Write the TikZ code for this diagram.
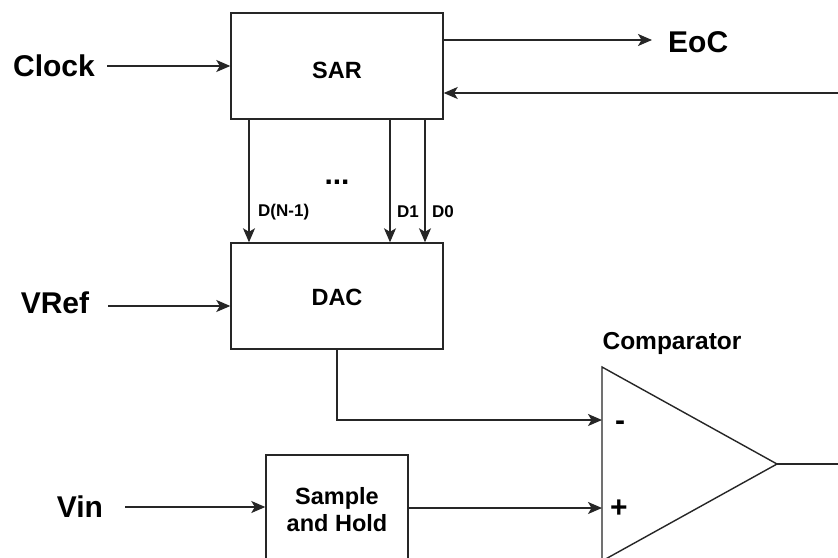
\documentclass[tikz,border=0pt]{standalone}
\usepackage{fontspec}
\setmainfont{Liberation Sans}
\usetikzlibrary{arrows.meta}
\begin{document}
\begin{tikzpicture}[x=1pt,y=-1pt,
  wire/.style={line width=1.4pt, draw=black!85},
  arr/.style={wire, -{Stealth[length=14pt,width=12pt,inset=3.5pt]}},
  blk/.style={draw=black!85, line width=1.4pt, rectangle, inner sep=0pt, align=center, font=\bfseries\fontsize{23.5}{27}\selectfont},
  big/.style={inner sep=0pt, font=\bfseries\fontsize{30}{34}\selectfont},
  mid/.style={inner sep=0pt, font=\bfseries\fontsize{24.5}{28}\selectfont},
  sign/.style={inner sep=0pt, font=\bfseries\fontsize{30}{34}\selectfont},
  small/.style={inner sep=0pt, font=\bfseries\fontsize{17}{19}\selectfont}]
\useasboundingbox (0,0) rectangle (838,557);
\fill[white] (0,0) rectangle (838,557);
\clip (0,0) rectangle (838,557);
% blocks
\node[blk, minimum width=212pt, minimum height=106pt] (sar) at (337,66) {\smash{\raisebox{-12.4pt}{SAR}}};
\node[blk, minimum width=212pt, minimum height=106pt] (dac) at (337,296) {\smash{\raisebox{-9.9pt}{DAC}}};
\node[blk, minimum width=142pt, minimum height=110pt] (sh) at (337,510) {Sample\\and Hold};
% external labels
\node[big] (clock) at (54,66) {Clock};
\node[big] (vref) at (55,303) {VRef};
\node[big] (vin) at (80,507) {Vin};
\node[big, anchor=west] (eoc) at (668,42) {EoC};
\node[mid] (cmplabel) at (672,343) {Comparator};
% comparator
\coordinate (ctop) at (602,367);
\coordinate (cbot) at (602,561);
\coordinate (capex) at (777,464);
\coordinate (cminus) at (602,420);
\coordinate (cplus) at (602,508);
\draw[wire, line join=miter] (ctop) -- (capex) -- (cbot) -- cycle;
\node[sign] (minus) at (620,426) {-};
\node[sign] (plus) at (619,509) {+};
% free ends
\coordinate (vrefout) at (108,306);
\coordinate (vinout) at (125,507);
\coordinate (eocend) at (652,40);
\coordinate (fbin) at (838,93);
\coordinate (outend) at (838,464);
% connectors
\draw[arr, shorten <=12pt] (clock.east) -- (sar.west);
\draw[arr] (vrefout) -- (vrefout -| dac.west);
\draw[arr] (vinout) -- (vinout -| sh.west);
\draw[arr] (eocend -| sar.east) -- (eocend);
\draw[arr] (fbin) -- (fbin -| sar.east);
\draw[arr] ([xshift=-88pt]sar.south) -- ([xshift=-88pt]dac.north);
\draw[arr] ([xshift=53pt]sar.south) -- ([xshift=53pt]dac.north);
\draw[arr] ([xshift=88pt]sar.south) -- ([xshift=88pt]dac.north);
\draw[arr] (dac.south) |- (cminus);
\draw[arr] (cplus -| sh.east) -- (cplus);
\draw[wire] (capex) -- (outend);
% bit labels
\node[small, anchor=west] (dn) at (258,212) {D(N-1)};
\node[small, anchor=west] (d1) at (397,212) {D1};
\node[small, anchor=west] (d0) at (432,212) {D0};
\node[sign] (dots) at (337,182) {...};
\end{tikzpicture}
\end{document}
